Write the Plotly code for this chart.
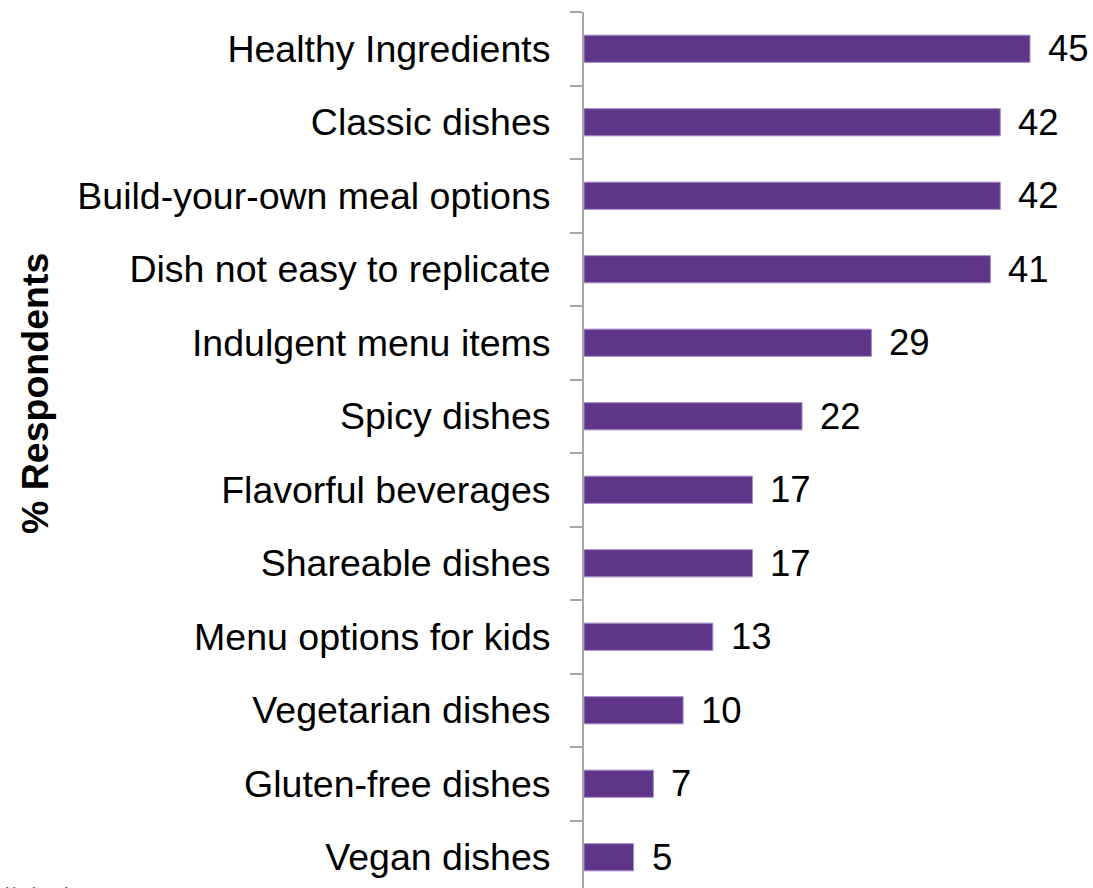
import plotly.graph_objects as go

categories = [
    "Healthy Ingredients", "Classic dishes", "Build-your-own meal options",
    "Dish not easy to replicate", "Indulgent menu items", "Spicy dishes",
    "Flavorful beverages", "Shareable dishes", "Menu options for kids",
    "Vegetarian dishes", "Gluten-free dishes", "Vegan dishes",
]
values = [45, 42, 42, 41, 29, 22, 17, 17, 13, 10, 7, 5]

W, H = 1093, 888
L, R, T, B = 584, 3, 12, 0
FONT = "Liberation Sans, Arial, sans-serif"

fig = go.Figure(go.Bar(
    x=values, y=categories, orientation="h",
    marker=dict(color="#5E3589", line=dict(color="#A58BC8", width=1)),
    width=0.37, hoverinfo="skip",
))

for c, v in zip(categories, values):
    fig.add_annotation(x=v, y=c, xref="x", yref="y", text=str(v),
                       showarrow=False, xanchor="left", yanchor="middle",
                       xshift=16, font=dict(family=FONT, size=36.5, color="#000"))

fig.add_annotation(xref="paper", yref="paper", x=0, y=(H - 394) / (H - T - B),
                   xshift=35 - L, text="<b>% Respondents</b>", textangle=-90,
                   showarrow=False, xanchor="center", yanchor="middle",
                   font=dict(family=FONT, size=37.5, color="#000"))

fig.add_annotation(xref="paper", yref="paper", x=0, y=0, xshift=3 - L, yshift=-(882 - (H - B)),
                   text="l/Mintel", showarrow=False, xanchor="left", yanchor="top",
                   font=dict(family=FONT, size=20, color="#595959"))

fig.update_layout(
    width=W, height=H,
    margin=dict(l=L, r=R, t=T, b=B, autoexpand=False),
    plot_bgcolor="white", paper_bgcolor="white",
    showlegend=False,
    xaxis=dict(range=[0, (W - L - R) / (446 / 45)], visible=False, fixedrange=True),
    yaxis=dict(
        categoryorder="array", categoryarray=categories,
        range=[(H - T - B) / 73.5 - 0.5, -0.5],
        showline=True, linecolor="#A6A6A6", linewidth=2,
        ticks="outside", tickson="boundaries", ticklen=12, tickcolor="#A6A6A6", tickwidth=2,
        ticklabelstandoff=24,
        tickfont=dict(family=FONT, size=37.5, color="#000"),
        showgrid=False, zeroline=False, fixedrange=True,
    ),
)

fig.write_html("out.html")
